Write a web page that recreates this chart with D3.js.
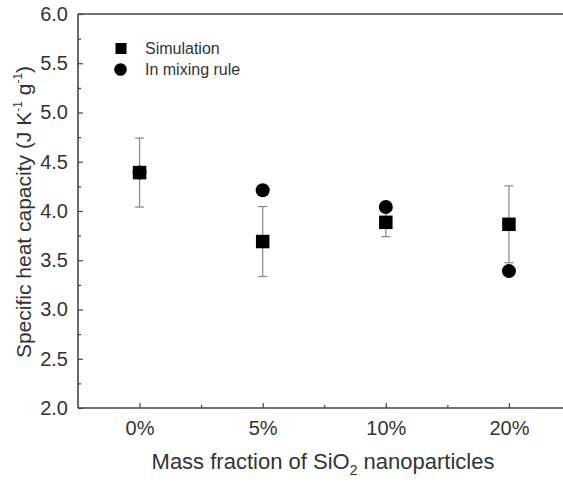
<!DOCTYPE html>
<html>
<head>
<meta charset="utf-8">
<script src="https://cdn.jsdelivr.net/npm/d3@7"></script>
<style>
  html, body { margin: 0; padding: 0; background: #fff; }
  svg { display: block; }
  text { font-family: "Liberation Sans", Arial, sans-serif; fill: #333; }
</style>
</head>
<body>
<svg id="chart" width="563" height="483"></svg>
<script>
// Mass fraction categories of SiO2 nanoparticles
const categories = ["0%", "5%", "10%", "20%"];
// Simulated specific heat capacity (J K^-1 g^-1) with error bounds
const simulation = [4.39, 3.69, 3.885, 3.865];
const simError = [0.35, 0.355, 0.145, 0.39];
// Values predicted by the mixing rule
const mixingRule = [4.39, 4.21, 4.04, 3.39];
// Axis ticks
const yMajorTicks = [2.0, 2.5, 3.0, 3.5, 4.0, 4.5, 5.0, 5.5, 6.0];
const yMinorTicks = [2.25, 2.75, 3.25, 3.75, 4.25, 4.75, 5.25, 5.75];
const xMinorTicks = [0.5, 1.5, 2.5];

const svg = d3.select("#chart");
const plotLeft = 78, plotTop = 14, plotBottom = 408, plotRight = 570.5;

const x = d3.scaleLinear().domain([-0.5, 3.5]).range([plotLeft, plotRight]);
const y = d3.scaleLinear().domain([2, 6]).range([plotBottom, plotTop]);

const axisColor = "#444";

// Minor ticks
const yMinor = svg.append("g").attr("transform", `translate(${plotLeft},0)`)
  .call(d3.axisLeft(y).tickValues(yMinorTicks).tickSize(-3).tickFormat(""));
const xMinor = svg.append("g").attr("transform", `translate(0,${plotBottom})`)
  .call(d3.axisBottom(x).tickValues(xMinorTicks).tickSize(-3).tickFormat(""));

// Major y axis
const yAxis = svg.append("g").attr("transform", `translate(${plotLeft},0)`)
  .call(d3.axisLeft(y).tickValues(yMajorTicks).tickSize(-5).tickPadding(10)
    .tickFormat(d3.format(".1f")));
// Major x axis
const xAxis = svg.append("g").attr("transform", `translate(0,${plotBottom})`)
  .call(d3.axisBottom(x).tickValues([0, 1, 2, 3]).tickSize(-5).tickPadding(13)
    .tickFormat(i => categories[i]));

[yMinor, xMinor, yAxis, xAxis].forEach(g => {
  g.select(".domain").remove();
  g.selectAll("line").attr("stroke", axisColor).attr("stroke-width", 1.2);
  g.selectAll("text").attr("font-size", 20).attr("fill", "#333")
    .attr("font-family", "'Liberation Sans', Arial, sans-serif");
});

// Frame lines: left, bottom and top
svg.append("line").attr("x1", plotLeft).attr("x2", plotLeft).attr("y1", plotTop).attr("y2", plotBottom)
  .attr("stroke", axisColor).attr("stroke-width", 1.6);
svg.append("line").attr("x1", plotLeft).attr("x2", 563).attr("y1", plotBottom).attr("y2", plotBottom)
  .attr("stroke", axisColor).attr("stroke-width", 1.6);
svg.append("line").attr("x1", plotLeft).attr("x2", 563).attr("y1", plotTop).attr("y2", plotTop)
  .attr("stroke", axisColor).attr("stroke-width", 1.6);

// Error bars of the simulation
const eb = svg.append("g").attr("stroke", "#888").attr("stroke-width", 1.2);
simulation.forEach((v, i) => {
  const cx = x(i);
  const y1 = y(v + simError[i]), y2 = y(v - simError[i]);
  eb.append("line").attr("x1", cx).attr("x2", cx).attr("y1", y1).attr("y2", y2);
  eb.append("line").attr("x1", cx - 4.5).attr("x2", cx + 4.5).attr("y1", y1).attr("y2", y1);
  eb.append("line").attr("x1", cx - 4.5).attr("x2", cx + 4.5).attr("y1", y2).attr("y2", y2);
});

// Mixing-rule markers
svg.append("g").selectAll("circle").data(mixingRule).join("circle")
  .attr("cx", (d, i) => x(i)).attr("cy", d => y(d)).attr("r", 7).attr("fill", "#000");

// Simulation markers
const sq = 13.5;
svg.append("g").selectAll("rect").data(simulation).join("rect")
  .attr("x", (d, i) => x(i) - sq / 2).attr("y", d => y(d) - sq / 2)
  .attr("width", sq).attr("height", sq).attr("fill", "#000");

// Legend
const legend = svg.append("g");
legend.append("rect").attr("x", 115.5).attr("y", 43).attr("width", 11).attr("height", 11).attr("fill", "#000");
legend.append("circle").attr("cx", 120.5).attr("cy", 69.5).attr("r", 6.3).attr("fill", "#000");
legend.append("text").attr("x", 145).attr("y", 54).attr("font-size", 16).text("Simulation");
legend.append("text").attr("x", 145).attr("y", 75).attr("font-size", 16).text("In mixing rule");

// Axis titles
const xt = svg.append("text").attr("x", 323).attr("y", 469).attr("text-anchor", "middle")
  .attr("font-size", 22);
xt.append("tspan").text("Mass fraction of SiO");
xt.append("tspan").attr("font-size", 14).attr("dy", 6).text("2");
xt.append("tspan").attr("dy", -6).text(" nanoparticles");

const yt = svg.append("text").attr("transform", "translate(31,212) rotate(-90)")
  .attr("text-anchor", "middle").attr("font-size", 21);
yt.append("tspan").text("Specific heat capacity (J K");
yt.append("tspan").attr("font-size", 12).attr("dy", -9).text("-1");
yt.append("tspan").attr("dy", 9).text(" g");
yt.append("tspan").attr("font-size", 12).attr("dy", -9).text("-1");
yt.append("tspan").attr("dy", 9).text(")");
</script>
</body>
</html>
